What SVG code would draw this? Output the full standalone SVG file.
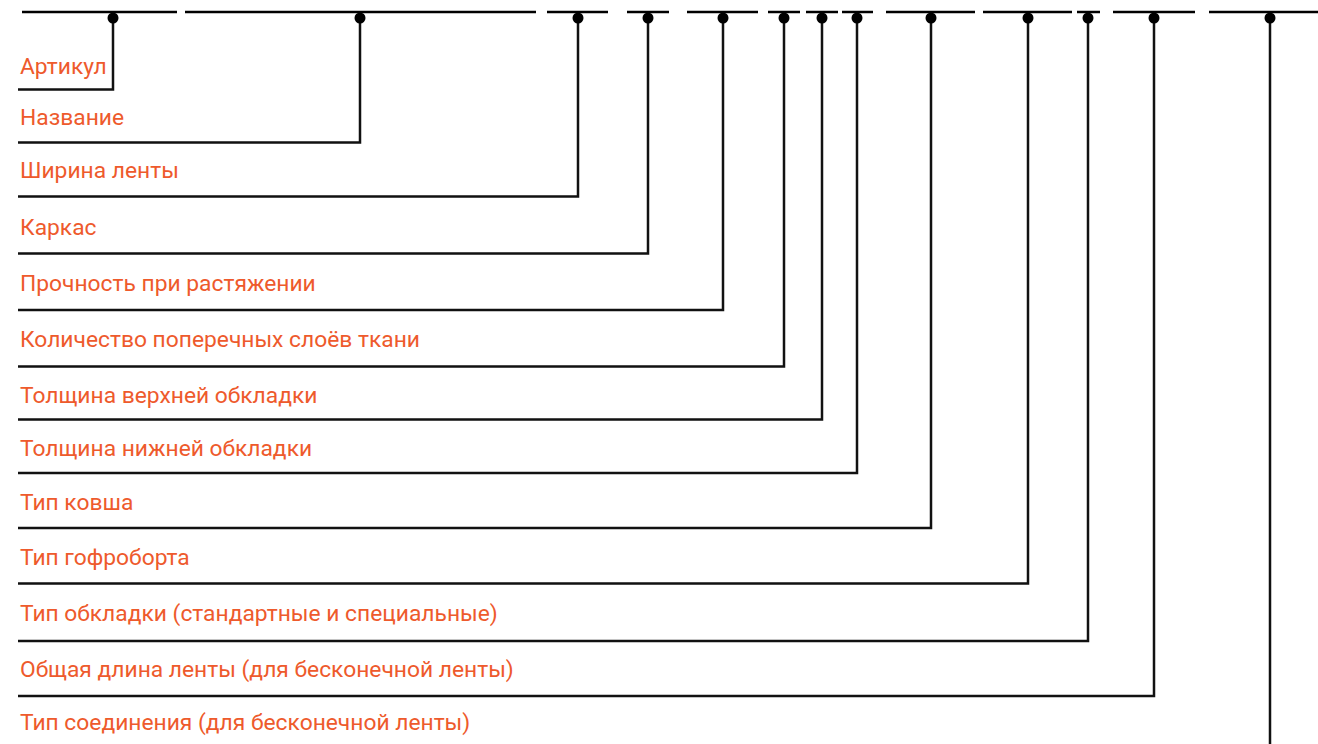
<svg xmlns="http://www.w3.org/2000/svg" width="1318" height="744" viewBox="0 0 1318 744">
<style>
.bar{stroke:#000;stroke-width:2.5;fill:none}
.con{stroke:#111;stroke-width:2.5;fill:none}
.dot{fill:#000}
.lbl{font-family:Roboto,"Liberation Sans",sans-serif;font-size:22.8px;fill:#EE5A2C}
</style>
<rect width="1318" height="744" fill="#fff"/>
<g id="top-bar" class="bar">
<line x1="22" y1="12" x2="177" y2="12"/>
<line x1="185" y1="12" x2="536" y2="12"/>
<line x1="547" y1="12" x2="608" y2="12"/>
<line x1="627" y1="12" x2="669" y2="12"/>
<line x1="687" y1="12" x2="758" y2="12"/>
<line x1="768" y1="12" x2="800" y2="12"/>
<line x1="806" y1="12" x2="838" y2="12"/>
<line x1="842" y1="12" x2="873" y2="12"/>
<line x1="886" y1="12" x2="975" y2="12"/>
<line x1="983" y1="12" x2="1072" y2="12"/>
<line x1="1077" y1="12" x2="1100" y2="12"/>
<line x1="1113" y1="12" x2="1195" y2="12"/>
<line x1="1209" y1="12" x2="1318" y2="12"/>
</g>
<g id="connectors" class="con">
<path d="M113 18V89.5H18"/>
<path d="M360 18V142.5H18"/>
<path d="M578 18V196.5H18"/>
<path d="M648 18V253.5H18"/>
<path d="M723 18V310H18"/>
<path d="M784 18V366.5H18"/>
<path d="M822 18V419.5H18"/>
<path d="M857 18V473H18"/>
<path d="M931 18V528H18"/>
<path d="M1028 18V583.5H18"/>
<path d="M1088 18V641H18"/>
<path d="M1154 18V696H18"/>
<path d="M1270 18V744"/>
</g>
<g id="dots" class="dot">
<circle cx="113" cy="18" r="5.5"/>
<circle cx="360" cy="18" r="5.5"/>
<circle cx="578" cy="18" r="5.5"/>
<circle cx="648" cy="18" r="5.5"/>
<circle cx="723" cy="18" r="5.5"/>
<circle cx="784" cy="18" r="5.5"/>
<circle cx="822" cy="18" r="5.5"/>
<circle cx="857" cy="18" r="5.5"/>
<circle cx="931" cy="18" r="5.5"/>
<circle cx="1028" cy="18" r="5.5"/>
<circle cx="1088" cy="18" r="5.5"/>
<circle cx="1154" cy="18" r="5.5"/>
<circle cx="1270" cy="18" r="5.5"/>
</g>
<g id="n1"><text class="lbl" x="20" y="74">Артикул</text></g>
<g id="n2"><text class="lbl" x="20" y="125">Название</text></g>
<g id="n3"><text class="lbl" x="20" y="178">Ширина ленты</text></g>
<g id="n4"><text class="lbl" x="20" y="235">Каркас</text></g>
<g id="n5"><text class="lbl" x="20" y="291">Прочность при растяжении</text></g>
<g id="n6"><text class="lbl" x="20" y="347">Количество поперечных слоёв ткани</text></g>
<g id="n7"><text class="lbl" x="20" y="403">Толщина верхней обкладки</text></g>
<g id="n8"><text class="lbl" x="20" y="456">Толщина нижней обкладки</text></g>
<g id="n9"><text class="lbl" x="20" y="510">Тип ковша</text></g>
<g id="n10"><text class="lbl" x="20" y="565">Тип гофроборта</text></g>
<g id="n11"><text class="lbl" x="20" y="621">Тип обкладки (стандартные и специальные)</text></g>
<g id="n12"><text class="lbl" x="20" y="677">Общая длина ленты (для бесконечной ленты)</text></g>
<g id="n13"><text class="lbl" x="20" y="730">Тип соединения (для бесконечной ленты)</text></g>
</svg>
